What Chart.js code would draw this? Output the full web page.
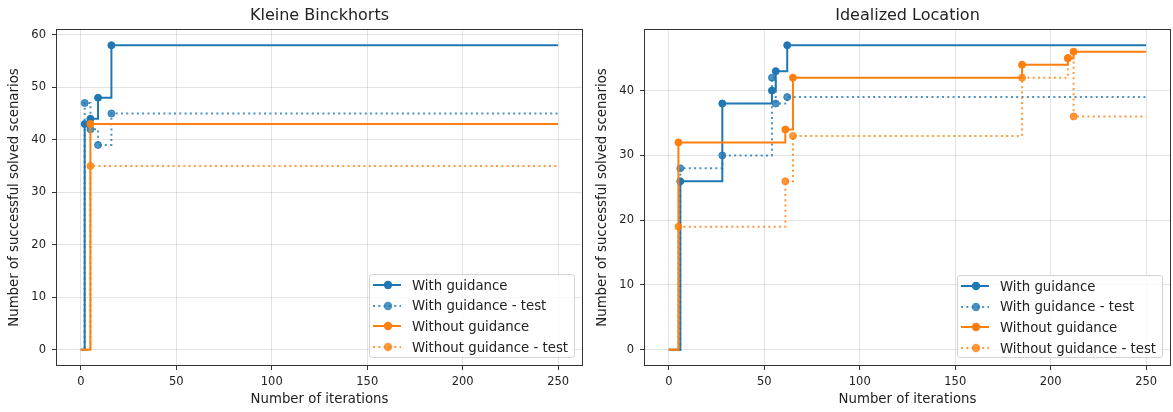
<!DOCTYPE html>
<html>
<head>
<meta charset="utf-8">
<script src="https://cdn.jsdelivr.net/npm/chart.js@4.4.0/dist/chart.umd.min.js"></script>
<style>
  body { margin: 0; background: #fff; width: 1173px; height: 412px; overflow: hidden; font-family: 'DejaVu Sans', sans-serif; }
  .panel { position: absolute; top: 0; }
  .legend { position: absolute; box-sizing: border-box; border: 1px solid #d3d3d3; border-radius: 3px; background: rgba(255,255,255,0.8); font-size: 13.3px; color: #222; }
  .row { height: 20.6px; display: flex; align-items: center; white-space: nowrap; }
  .row svg { margin-left: 3px; margin-right: 11px; flex: none; }
</style>
</head>
<body>
<canvas id="kb" class="panel" style="left:0px" width="586" height="412"></canvas>
<canvas id="il" class="panel" style="left:586px" width="587" height="412"></canvas>
<div id="kbLegend" class="legend" style="left:369px; top:274px; width:206px; height:84px;"></div>
<div id="ilLegend" class="legend" style="left:957px; top:275px; width:206px; height:83px;"></div>
<script>
const seriesNames = ["With guidance", "With guidance - test", "Without guidance", "Without guidance - test"];
const xTicks = [0, 50, 100, 150, 200, 250];

// Kleine Binckhorts
const kbGuidedIter = [0, 2, 5, 9, 16, 250];
const kbGuided = [0, 43, 44, 48, 58, 58];
const kbGuidedTest = [0, 47, 42, 39, 45, 45];
const kbUnguidedIter = [0, 5, 250];
const kbUnguided = [0, 43, 43];
const kbUnguidedTest = [0, 35, 35];
const kbYTicks = [0, 10, 20, 30, 40, 50, 60];

// Idealized Location
const ilGuidedIter = [0, 6, 28, 54, 56, 62, 250];
const ilGuided = [0, 26, 38, 40, 43, 47, 47];
const ilGuidedTest = [0, 28, 30, 42, 38, 39, 39];
const ilUnguidedIter = [0, 5, 61, 65, 185, 209, 212, 250];
const ilUnguided = [0, 32, 34, 42, 44, 45, 46, 46];
const ilUnguidedTest = [0, 19, 26, 33, 42, 45, 36, 36];
const ilYTicks = [0, 10, 20, 30, 40];

const BLUE = "#1f77b4", BLUE_T = "rgba(31,119,180,0.8)";
const ORANGE = "#ff7f0e", ORANGE_T = "rgba(255,127,14,0.8)";
const colors = [BLUE, BLUE_T, ORANGE, ORANGE_T];
const dashed = [false, true, false, true];
const FONT = "'DejaVu Sans', sans-serif";

// border around the plot area (all four spines)
const frame = {
  id: "frame",
  afterDraw(chart) {
    const { ctx, chartArea: a } = chart;
    ctx.save();
    ctx.strokeStyle = "#333";
    ctx.lineWidth = 1;
    ctx.strokeRect(Math.round(a.left) - 0.5, Math.round(a.top) - 0.5, Math.round(a.width) + 1, Math.round(a.height) + 1);
    ctx.restore();
  }
};

function dataset(idx, iters, vals) {
  const radii = vals.map((v, i) => (i === 0 || i === vals.length - 1) ? 0 : 3.5);
  return {
    label: seriesNames[idx],
    data: iters.map((x, i) => ({ x: x, y: vals[i] })),
    borderColor: colors[idx],
    backgroundColor: colors[idx],
    pointBackgroundColor: colors[idx],
    pointBorderColor: colors[idx],
    borderWidth: 2,
    borderDash: dashed[idx] ? [2, 3.3] : [],
    pointRadius: radii,
    pointHoverRadius: 0,
    pointBorderWidth: 1,
    stepped: true,
    fill: false,
    order: 3 - idx
  };
}

function makeChart(id, title, sets, yMin, yMax, yTicks, yWidth, padRight, yTitlePad) {
  return new Chart(document.getElementById(id), {
    type: "line",
    data: { datasets: sets },
    options: {
      responsive: false,
      animation: false,
      events: [],
      layout: { padding: { left: 0, right: padRight, top: 0, bottom: 0 } },
      plugins: {
        legend: { display: false },
        tooltip: { enabled: false },
        title: {
          display: true, text: title, fullSize: false, color: "#222",
          font: { family: FONT, size: 16, weight: "normal", lineHeight: 1.2 },
          padding: { top: 6.4, bottom: 4.4 }
        }
      },
      scales: {
        x: {
          type: "linear", min: -12.5, max: 262.5,
          afterBuildTicks: s => { s.ticks = xTicks.map(v => ({ value: v })); },
          afterFit: s => { s.height = 47; },
          ticks: { color: "#222", font: { family: FONT, size: 11.5 }, padding: 5, maxRotation: 0, autoSkip: false },
          grid: { color: "rgba(176,176,176,0.35)", lineWidth: 1, tickLength: 5, tickColor: "#333" },
          border: { display: false },
          title: { display: true, text: "Number of iterations", color: "#222", font: { family: FONT, size: 13.3, lineHeight: 1.2 }, padding: { top: 0, bottom: 4 } }
        },
        y: {
          type: "linear", min: yMin, max: yMax,
          afterBuildTicks: s => { s.ticks = yTicks.map(v => ({ value: v })); },
          afterFit: s => { s.width = yWidth; },
          ticks: { color: "#222", font: { family: FONT, size: 11.5 }, padding: 6, autoSkip: false },
          grid: { color: "rgba(176,176,176,0.35)", lineWidth: 1, tickLength: 5, tickColor: "#333" },
          border: { display: false },
          title: { display: true, text: "Number of successful solved scenarios", color: "#222", font: { family: FONT, size: 13.3, lineHeight: 1.2 }, padding: { top: yTitlePad, bottom: 0 } }
        }
      }
    },
    plugins: [frame]
  });
}

makeChart("kb", "Kleine Binckhorts", [
  dataset(0, kbGuidedIter, kbGuided),
  dataset(1, kbGuidedIter, kbGuidedTest),
  dataset(2, kbUnguidedIter, kbUnguided),
  dataset(3, kbUnguidedIter, kbUnguidedTest)
], -2.9, 60.9, kbYTicks, 57, 4, 7);

makeChart("il", "Idealized Location", [
  dataset(0, ilGuidedIter, ilGuided),
  dataset(1, ilGuidedIter, ilGuidedTest),
  dataset(2, ilUnguidedIter, ilUnguided),
  dataset(3, ilUnguidedIter, ilUnguidedTest)
], -2.35, 49.35, ilYTicks, 59, 3, 9);

// legend boxes, lower right like matplotlib
function buildLegend(id) {
  const box = document.getElementById(id);
  seriesNames.forEach((name, i) => {
    const row = document.createElement("div");
    row.className = "row";
    const dash = dashed[i] ? ' stroke-dasharray="2 3.3"' : "";
    row.innerHTML =
      '<svg width="28" height="10"><line x1="0" y1="5" x2="28" y2="5" stroke="' + colors[i] + '" stroke-width="2"' + dash + '/>' +
      '<circle cx="15" cy="5" r="4.2" fill="' + colors[i] + '"/></svg><span>' + name + '</span>';
    box.appendChild(row);
  });
}
buildLegend("kbLegend");
buildLegend("ilLegend");
</script>
</body>
</html>
